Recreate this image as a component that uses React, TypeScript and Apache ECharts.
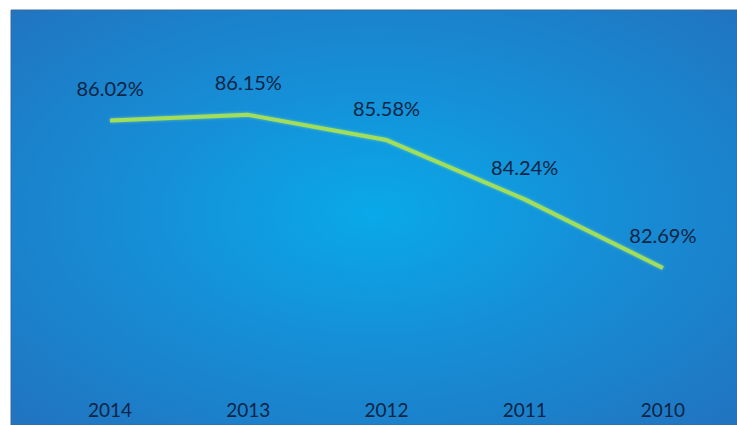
import React, { useEffect, useRef } from "react";
import * as echarts from "echarts";

const years = ["2014", "2013", "2012", "2011", "2010"];
const rates = [86.02, 86.15, 85.58, 84.24, 82.69];

export default function App() {
  const ref = useRef<HTMLDivElement>(null);
  useEffect(() => {
    if (!ref.current) return;
    const chart = echarts.init(ref.current, null, { renderer: "svg" });
    const font = "Lato, 'Open Sans', 'DejaVu Sans', sans-serif";
    chart.setOption({
      animation: false,
      backgroundColor: "#ffffff",
      graphic: [
        {
          type: "rect",
          z: -10,
          silent: true,
          shape: { x: 11, y: 10, width: 726, height: 415 },
          style: {
            fill: new echarts.graphic.RadialGradient(0.5, 0.49, 1, [
              { offset: 0, color: "#09a9e8" },
              { offset: 0.3, color: "#1590d8" },
              { offset: 0.7, color: "#2174c0" },
              { offset: 1, color: "#2868b4" },
            ]),
            stroke: "#3c6a98",
            lineWidth: 1,
          },
        },
      ],
      grid: { left: 41, right: 5, top: 33, bottom: 38 },
      xAxis: {
        type: "category",
        data: years,
        boundaryGap: true,
        axisLine: { show: false },
        axisTick: { show: false },
        axisLabel: {
          margin: 13,
          color: "#0d2444",
          fontSize: 19,
          fontFamily: font,
          verticalAlign: "top",
          lineHeight: 19,
        },
      },
      yAxis: {
        type: "value",
        min: 80,
        max: 88,
        show: false,
        splitLine: { show: false },
      },
      series: [
        {
          type: "line",
          data: rates,
          symbol: "circle",
          symbolSize: 1,
          showSymbol: true,
          itemStyle: { color: "rgba(0,0,0,0)" },
          lineStyle: {
            color: "#a2de5a",
            width: 4,
            shadowColor: "rgba(190,255,120,0.5)",
            shadowBlur: 3,
          },
          label: {
            show: true,
            position: "top",
            distance: 22,
            color: "#0d2444",
            fontSize: 20,
            fontFamily: font,
            formatter: (p: any) => `${Number(p.value).toFixed(2)}%`,
          },
        },
      ],
    });
    return () => chart.dispose();
  }, []);
  return (
    <div
      ref={ref}
      style={{ position: "fixed", left: 0, top: 0, width: 737, height: 425 }}
    />
  );
}
